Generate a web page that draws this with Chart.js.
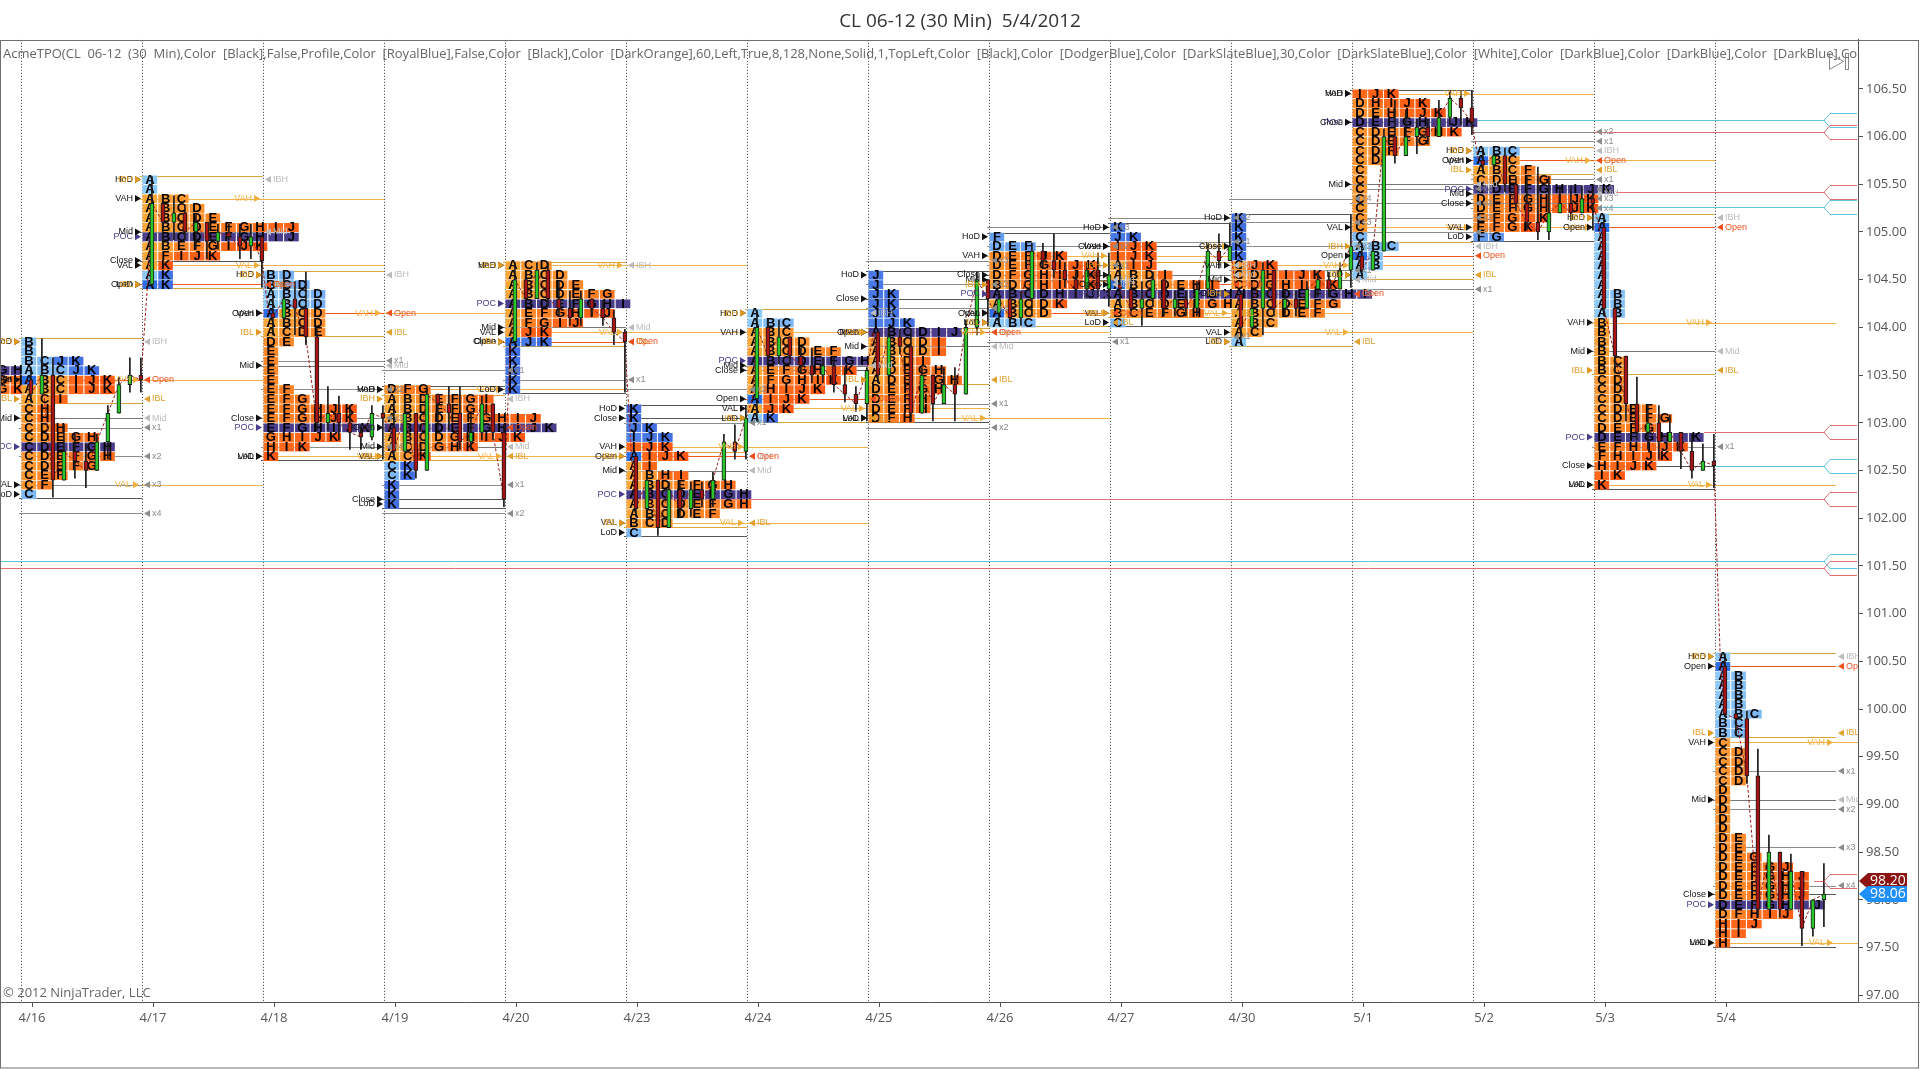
<!DOCTYPE html>
<html>
<head>
<meta charset="utf-8">
<title>CL 06-12 (30 Min) TPO</title>
<script src="https://cdn.jsdelivr.net/npm/chart.js@4.4.1/dist/chart.umd.min.js"></script>
<style>
  html, body { margin: 0; padding: 0; background: #fff; }
  #wrap { width: 1920px; height: 1069px; position: relative; }
</style>
</head>
<body>
<div id="wrap"><canvas id="tpo"></canvas></div>
<script>
// sessions, the first one (4/13) only shows its tail at the left edge
const dayLabels = ['4/13','4/16','4/17','4/18','4/19','4/20','4/23','4/24','4/25','4/26','4/27','4/30','5/1','5/2','5/3','5/4'];

// price of the top tpo row of each profile, rows go down 0.10 each
const profileTop = [103.55,103.85,105.55,104.55,103.35,104.65,103.15,104.15,104.55,104.95,105.05,105.15,106.45,105.85,105.15,100.55];

// letters per price row, top row first
const profileRows = [
  ['ABCDEFGH','ABCDEFGH','ABCDEFGK'],
  ['B','B','BCJK','ABCJK','ABCIJK','ABCIJK','ACI','CH','CH','CDH','CDEGH','CDEFGH','CDEFGH','CDEFG','CEF','CF','C'],
  ['A','A','ABC','ABCD','ABCDE','ABCDEFGHIJ','ABCDEFGHIJ','ABEFGIJK','AFIJK','AK','AK','AK'],
  ['BD','BCD','ABCD','ABCD','ABCD','ABCD','ACDE','DE','E','E','E','E','EF','EFG','EFGHJK','EFGHJK','EFGHIJK','GHIJK','HIK','K'],
  ['DFG','ABDEFGI','ABDEFGI','ABCDEFGHIJ','ABCDEFGHIJK','ABCDGHIJK','ACDGHK','ACK','CK','CK','K','K','K'],
  ['ACD','ABCD','ABCDE','ABCDEFG','ABDEFGHI','AEFGHIJ','AFGIJ','AJK','AJK','K','K','K','K','K'],
  ['K','K','JK','IJK','IJK','AIJK','AI','ABHI','ABDEFGH','ABCDEFGH','ABCDEFGH','ABCDEF','BCD','C'],
  ['A','ABC','ABC','ABCD','ABCDEF','ABCDEFGH','AEFGHIK','AFGHIK','AHIJK','AIJK','AJK','AK'],
  ['J','J','JK','JK','JK','IJK','ABCDIJ','ABCDI','ABCDI','ABDI','ADEGH','ADEFGH','DEFGH','DEFH','DEFH','DFH'],
  ['F','DEF','DEFJK','DEFGIJK','DFGHIJK','BDGHIJK','ABCDHIJK','ABCDK','ABCD','ABC'],
  ['K','JK','IJK','IJK','AIJ','ABDI','ABCDEHI','ABCDEFGHI','ABCDEFGH','BCEFGH','C'],
  ['K','K','K','K','K','CJK','CDHIJK','CDGHIJK','ABCDEFGHI','ABCDEFG','ABCDEF','ABC','AC','A'],
  ['IJK','DHIJK','DEHIJK','DEFGHIJK','CDEFGHK','CDEFG','CDF','CD','C','C','C','C','C','C','C','C','ABC','AB','AB','A'],
  ['ABC','ABC','ABCF','CDEFG','CDEFGHIJK','DEFGHIJK','DEFGHIJK','EFGIK','EFGK','FG'],
  ['A','A','A','A','A','A','A','A','AB','AB','AB','B','B','B','B','BC','BC','CD','CD','CD','CDEF','CDEFG','DEFG','DEFGHIK','EFHIJK','FHIJK','HIJK','IK','K'],
  ['A','A','AB','AB','AB','AB','ABC','BC','BC','C','CD','CD','CD','CD','D','D','D','D','D','DE','DE','DEG','DEFGJ','DEFGHJ','DEFGHJ','DEFGHJ','DEFGHIJ','DFHIJ','HIJ','HI','H']
];

const pocPrice  = [103.55,102.75,104.95,102.95,102.95,104.25,102.25,103.65,103.95,104.35,104.35,104.35,106.15,105.45,102.85,97.95];
const vahPrice  = [103.55,103.45,105.35,104.15,103.35,104.65,102.75,103.95,103.95,104.75,104.85,104.65,106.45,105.75,104.05,99.65];
const valPrice  = [103.35,102.35,104.65,102.65,102.65,103.95,101.95,103.15,103.05,104.15,104.15,103.95,105.05,105.05,102.35,97.55];
const openPrice = [null,103.45,104.45,104.15,102.95,103.85,102.65,103.25,103.95,104.15,104.45,104.35,104.75,105.75,105.05,100.45];

// close of each 30 min bar (A, B, C ...)
const barCloses = [
  [],
  [103.3,103.5,102.4,102.7,102.6,102.5,102.8,103.1,103.4,103.5,103.45],
  [105.3,105.1,105.2,105.0,105.1,104.9,105.0,104.95,104.85,104.95,104.7],
  [104.1,104.3,104.2,103.9,103.0,103.1,103.0,102.9,102.85,103.1,103.05],
  [102.7,103.1,102.5,103.3,103.2,103.1,102.8,102.9,103.2,102.9,102.2],
  [104.5,104.3,104.6,104.3,104.2,104.1,104.3,104.2,104.1,103.95,103.85],
  [102.1,102.4,101.9,102.3,102.1,102.3,102.2,102.4,102.8,102.7,103.05],
  [104.0,103.7,103.9,103.7,103.6,103.5,103.6,103.4,103.3,103.2,103.55],
  [103.5,103.9,103.8,103.1,103.5,103.2,103.4,103.3,104.0,104.5,104.3],
  [104.3,104.1,104.3,104.8,104.7,104.6,104.5,104.4,104.6,104.4,104.55],
  [104.4,104.2,104.3,104.5,104.2,104.3,104.2,104.4,104.8,104.7,104.85],
  [104.0,104.2,104.6,104.2,104.3,104.2,104.4,104.5,104.4,104.6,104.85],
  [104.6,104.8,106.0,105.8,106.0,106.1,106.0,106.2,106.4,106.3,106.15],
  [105.7,105.8,105.5,105.3,105.1,105.0,105.2,105.3,105.2,105.35,105.3],
  [104.2,103.7,103.2,102.9,103.0,102.8,102.9,102.7,102.5,102.6,102.55],
  [99.95,99.9,99.3,97.9,98.5,97.9,98.3,97.7,98.0,98.06]
];

// untested levels carried to the right edge
const nakedPrice = [101.48,101.55,102.2,102.9,102.55,106.17,106.05,105.42,105.26,98.2];
const nakedFrom  = [-2,-2,55,153,153,132,132,145,143,163];
const nakedKind  = ['vpoc','hg','vpoc','vpoc','hg','hg','vpoc','vpoc','hg','vpoc'];

const lastPrice = 98.06;
const markPrice = 98.20;
const yTicks = [97,97.5,98,98.5,99,99.5,100,100.5,101,101.5,102,102.5,103,103.5,104,104.5,105,105.5,106,106.5];

const indicatorText = 'AcmeTPO(CL  06-12  (30  Min),Color  [Black],False,Profile,Color  [RoyalBlue],False,Color  [Black],Color  [DarkOrange],60,Left,True,8,128,None,Solid,1,TopLeft,Color  [Black],Color  [DodgerBlue],Color  [DarkSlateBlue],30,Color  [DarkSlateBlue],Color  [White],Color  [DarkBlue],Color  [DarkBlue],Color  [DarkBlue],Color  [DarkBlue]';

// ---- layout / style constants
const ROW = 0.1, COLW = 1.43, BARS = 11;
const X_MIN = -21 / 11, X_MAX = 167;
const FONT = '"Open Sans", "Liberation Sans", sans-serif';
const ORANGE_A = [255, 168, 58], ORANGE_K = [255, 88, 18];
const BLUE_A = [140, 202, 250], BLUE_K = [66, 112, 226];
const POC_FILL = '#4A3E8C', OPEN_FILL = '#2D6FE4';
const kindColor = { vpoc: '#E07070', hg: '#5CC6DA' };

function sessionStart(i) { return (i - 1) * BARS; }
function near(a, b) { return b != null && Math.abs(a - b) < 0.001; }
function mix(c1, c2, t) {
  return 'rgb(' + c1.map((v, k) => Math.round(v + (c2[k] - v) * t)).join(',') + ')';
}
function cellColor(i, p, ch) {
  if (near(p, pocPrice[i])) return POC_FILL;
  if (ch === 'A' && near(p, openPrice[i])) return OPEN_FILL;
  const t = Math.min(1, (ch.charCodeAt(0) - 65) / 10);
  if (p <= vahPrice[i] + 0.001 && p >= valPrice[i] - 0.001) return mix(ORANGE_A, ORANGE_K, t);
  return mix(BLUE_A, BLUE_K, t);
}

// ---- build tpo cells
const cells = [];
profileRows.forEach((rows, i) => {
  const x0 = sessionStart(i);
  rows.forEach((row, k) => {
    const p = +(profileTop[i] - k * ROW).toFixed(2);
    [...row].forEach((ch, col) => {
      cells.push({ x: x0 + (col + 0.5) * COLW, y: [p - ROW / 2, p + ROW / 2], t: ch, c: cellColor(i, p, ch) });
    });
  });
});

// ---- candles: range from the letters, body from open / close
const wicks = [], bodies = [], closePath = [];
barCloses.forEach((closes, i) => {
  if (!closes.length) return;
  const rows = profileRows[i];
  closes.forEach((c, j) => {
    const letter = String.fromCharCode(65 + j);
    const o = j === 0 ? openPrice[i] : closes[j - 1];
    let hi = Math.max(o, c), lo = Math.min(o, c);
    rows.forEach((r, k) => {
      if (r.includes(letter)) {
        const p = profileTop[i] - k * ROW;
        hi = Math.max(hi, p + 0.03); lo = Math.min(lo, p - 0.03);
      }
    });
    const x = sessionStart(i) + j + 0.9;
    wicks.push({ x, y: [lo, hi] });
    const b0 = Math.min(o, c), b1 = Math.max(o, c);
    bodies.push({ x, y: b1 - b0 < 0.02 ? [b0 - 0.01, b1 + 0.01] : [b0, b1], up: c >= o });
    if (j === 0) closePath.push({ x: x - 0.4, y: o });
    closePath.push({ x, y: c });
  });
});

// ---- session levels derived from the profiles
const levels = dayLabels.map((d, i) => {
  const rows = profileRows[i];
  const prices = rows.map((r, k) => +(profileTop[i] - k * ROW).toFixed(2));
  let ibh = -Infinity, ibl = Infinity;
  rows.forEach((r, k) => {
    if (r.includes('A') || r.includes('B')) { ibh = Math.max(ibh, prices[k]); ibl = Math.min(ibl, prices[k]); }
  });
  const hod = prices[0], lod = prices[prices.length - 1];
  const ext = [];
  const half = (ibh - ibl) / 2;
  if (half > 0.05) {
    for (let n = 1; n <= 4; n++) {
      if (ibl - n * half >= lod - 0.2) ext.push({ p: ibl - n * half, n });
      if (ibh + n * half <= hod + 0.2) ext.push({ p: ibh + n * half, n });
    }
  }
  const closes = barCloses[i];
  return { hod, lod, mid: (hod + lod) / 2, ibh, ibl, ext, close: closes.length ? closes[closes.length - 1] : null };
});

function tagLeft(ctx, text, xr, yp, color) {
  ctx.fillStyle = color;
  ctx.beginPath(); ctx.moveTo(xr - 7, yp - 3.5); ctx.lineTo(xr - 1, yp); ctx.lineTo(xr - 7, yp + 3.5); ctx.closePath(); ctx.fill();
  ctx.textAlign = 'right'; ctx.fillText(text, xr - 9, yp);
}
function tagRight(ctx, text, xl, yp, color) {
  ctx.fillStyle = color;
  ctx.beginPath(); ctx.moveTo(xl + 8, yp - 3.5); ctx.lineTo(xl + 2, yp); ctx.lineTo(xl + 8, yp + 3.5); ctx.closePath(); ctx.fill();
  ctx.textAlign = 'left'; ctx.fillText(text, xl + 10, yp);
}
function hline(ctx, x1, x2, yp, color) {
  const py = Math.round(yp) + 0.5;
  ctx.strokeStyle = color; ctx.beginPath(); ctx.moveTo(x1, py); ctx.lineTo(x2, py); ctx.stroke();
}

const backdrop = {
  id: 'backdrop',
  beforeDatasetsDraw(chart) {
    const { ctx, chartArea: a, scales: { x, y } } = chart;
    ctx.save();
    ctx.beginPath(); ctx.rect(a.left, a.top, a.right - a.left, a.bottom - a.top); ctx.clip();
    ctx.lineWidth = 1;
    // dotted session separators
    ctx.strokeStyle = '#333'; ctx.setLineDash([1, 2]);
    for (let i = 1; i < dayLabels.length; i++) {
      const px = Math.round(x.getPixelForValue(sessionStart(i))) + 0.5;
      ctx.beginPath(); ctx.moveTo(px, a.top); ctx.lineTo(px, a.bottom); ctx.stroke();
    }
    ctx.setLineDash([]);
    // long untested levels
    nakedPrice.forEach((p, k) => {
      hline(ctx, x.getPixelForValue(nakedFrom[k]), a.right - 33, y.getPixelForValue(p), kindColor[nakedKind[k]]);
    });
    // per session lines
    for (let i = 1; i < dayLabels.length; i++) {
      const L = levels[i];
      const s0 = x.getPixelForValue(sessionStart(i)) - 2, s1 = x.getPixelForValue(sessionStart(i + 1));
      const s2 = x.getPixelForValue(sessionStart(i + 2));
      hline(ctx, s0, s2, y.getPixelForValue(vahPrice[i]), '#F2B24A');
      hline(ctx, s0, s2, y.getPixelForValue(valPrice[i]), '#F2B24A');
      hline(ctx, s0, s1, y.getPixelForValue(L.hod + 0.04), '#555');
      hline(ctx, s0, s1, y.getPixelForValue(L.lod - 0.04), '#555');
      hline(ctx, s0, s1, y.getPixelForValue(L.mid), '#777');
      if (L.close != null) hline(ctx, s0, s1, y.getPixelForValue(L.close), '#555');
      hline(ctx, s0, s1, y.getPixelForValue(L.ibh + 0.04), '#D9A43A');
      hline(ctx, s0, s1, y.getPixelForValue(L.ibl - 0.04), '#D9A43A');
      if (openPrice[i] != null) hline(ctx, s0, s1, y.getPixelForValue(openPrice[i]), '#F05A22');
      L.ext.forEach(e => hline(ctx, s0, s1, y.getPixelForValue(e.p), '#8C8C8C'));
    }
    ctx.restore();
  },
  afterDatasetDraw(chart, args) {
    if (args.index !== 0) return;
    const { ctx, chartArea: a } = chart;
    ctx.save();
    ctx.beginPath(); ctx.rect(a.left, a.top, a.right - a.left, a.bottom - a.top); ctx.clip();
    ctx.font = 'bold 13px "Liberation Sans", Arial, sans-serif';
    ctx.textAlign = 'center'; ctx.textBaseline = 'middle';
    ctx.fillStyle = '#000';
    args.meta.data.forEach((el, j) => {
      ctx.fillText(cells[j].t, el.x, (el.y + el.base) / 2 + 0.5);
    });
    ctx.restore();
  },
  afterDatasetsDraw(chart) {
    const { ctx, chartArea: a, scales: { x, y } } = chart;
    ctx.save();
    ctx.beginPath(); ctx.rect(a.left, a.top, a.right - a.left, a.bottom - a.top); ctx.clip();
    ctx.font = '9px "Liberation Sans", Arial, sans-serif';
    ctx.textBaseline = 'middle';
    for (let i = 1; i < dayLabels.length; i++) {
      const L = levels[i];
      const s0 = x.getPixelForValue(sessionStart(i)), s1 = x.getPixelForValue(sessionStart(i + 1));
      const py = v => y.getPixelForValue(v);
      tagLeft(ctx, 'HoD', s0, py(L.hod), '#111');
      tagLeft(ctx, 'LoD', s0, py(L.lod), '#111');
      tagLeft(ctx, 'VAH', s0, py(vahPrice[i]), '#111');
      tagLeft(ctx, 'VAL', s0, py(valPrice[i]), '#111');
      tagLeft(ctx, 'POC', s0, py(pocPrice[i]), '#483D8B');
      tagLeft(ctx, 'Mid', s0, py(L.mid), '#111');
      if (L.close != null) tagLeft(ctx, 'Close', s0, py(L.close), '#111');
      if (openPrice[i] != null) tagLeft(ctx, 'Open', s0, py(openPrice[i]), '#111');
      tagLeft(ctx, 'IBH', s0, py(L.ibh), '#E09A20');
      tagLeft(ctx, 'IBL', s0, py(L.ibl), '#E09A20');
      tagLeft(ctx, 'VAH', s1 - 2, py(vahPrice[i]), '#F2AE3C');
      tagLeft(ctx, 'VAL', s1 - 2, py(valPrice[i]), '#F2AE3C');
      tagRight(ctx, 'IBH', s1, py(L.ibh), '#BBBBBB');
      tagRight(ctx, 'IBL', s1, py(L.ibl), '#E0A030');
      tagRight(ctx, 'Mid', s1, py(L.mid), '#BBBBBB');
      if (openPrice[i] != null) tagRight(ctx, 'Open', s1, py(openPrice[i]), '#F0501E');
      L.ext.forEach(e => tagRight(ctx, 'x' + e.n, s1, py(e.p), '#8C8C8C'));
    }
    ctx.restore();
  },
  afterDraw(chart) {
    const { ctx, chartArea: a, scales: { y } } = chart;
    const W = chart.width, H = chart.height;
    ctx.save();
    // flags of the untested levels at the right edge
    ctx.lineWidth = 1;
    nakedPrice.forEach((p, k) => {
      const py = Math.round(y.getPixelForValue(p)) + 0.5, r = a.right - 1;
      ctx.strokeStyle = kindColor[nakedKind[k]];
      ctx.beginPath();
      ctx.moveTo(r, py - 7); ctx.lineTo(r - 27, py - 7); ctx.lineTo(r - 33, py);
      ctx.lineTo(r - 27, py + 7); ctx.lineTo(r, py + 7); ctx.stroke();
    });
    // indicator text and copyright
    ctx.save();
    ctx.beginPath(); ctx.rect(a.left, a.top, a.right - a.left, a.bottom - a.top); ctx.clip();
    ctx.fillStyle = '#666'; ctx.font = '13px ' + FONT; ctx.textBaseline = 'middle'; ctx.textAlign = 'left';
    ctx.fillText(indicatorText, 3, a.top + 14);
    ctx.fillText('\u00A9 2012 NinjaTrader, LLC', 3, a.bottom - 9);
    ctx.restore();
    // play icon
    ctx.strokeStyle = '#888';
    ctx.beginPath(); ctx.moveTo(1829.5, 53.5); ctx.lineTo(1843.5, 61.5); ctx.lineTo(1829.5, 69.5); ctx.closePath(); ctx.stroke();
    ctx.strokeRect(1845.5, 53.5, 3, 16);
    // price markers on the axis
    [[markPrice, '#8E1414'], [lastPrice, '#1E8FFF']].forEach(([v, col]) => {
      const py = Math.round(y.getPixelForValue(v)), x0 = a.right + 1;
      ctx.fillStyle = col;
      ctx.beginPath(); ctx.moveTo(x0, py); ctx.lineTo(x0 + 9, py - 8); ctx.lineTo(x0 + 48, py - 8);
      ctx.lineTo(x0 + 48, py + 8); ctx.lineTo(x0 + 9, py + 8); ctx.closePath(); ctx.fill();
      ctx.fillStyle = '#fff'; ctx.font = '14px ' + FONT; ctx.textAlign = 'left'; ctx.textBaseline = 'middle';
      ctx.fillText(v.toFixed(2), x0 + 11, py + 0.5);
    });
    // panel frame
    ctx.strokeStyle = '#707070';
    ctx.strokeRect(0.5, Math.round(a.top) + 0.5, W - 2, H - Math.round(a.top) - 1.5);
    ctx.beginPath(); ctx.moveTo(a.right, Math.round(a.bottom) + 0.5); ctx.lineTo(W, Math.round(a.bottom) + 0.5); ctx.stroke();
    ctx.restore();
  }
};

// tick under each session, only the ones inside the axis range
const tickValues = dayLabels.map((d, i) => sessionStart(i) + 1).filter(v => v > X_MIN && v < X_MAX);

new Chart(document.getElementById('tpo'), {
  type: 'bar',
  data: {
    datasets: [
      {
        label: 'TPO', data: cells, order: 5, grouped: false,
        barThickness: 16, borderWidth: 1, borderColor: 'rgba(255,255,255,0.28)',
        backgroundColor: c => (c.raw ? c.raw.c : '#fff')
      },
      {
        type: 'line', label: 'Close path', data: closePath, order: 3,
        borderColor: '#9B1C1C', borderWidth: 1, borderDash: [3, 2], pointRadius: 0, tension: 0
      },
      {
        label: 'Wicks', data: wicks, order: 2, grouped: false,
        barThickness: 1, backgroundColor: '#1A1A1A', borderWidth: 0
      },
      {
        label: 'Bodies', data: bodies, order: 1, grouped: false,
        barThickness: 4, borderWidth: 1, borderColor: '#1A1A1A', borderSkipped: false,
        backgroundColor: c => (c.raw && c.raw.up ? '#2CC52C' : '#A81414')
      }
    ]
  },
  options: {
    responsive: true,
    maintainAspectRatio: false,
    devicePixelRatio: 1,
    animation: false,
    events: [],
    layout: { padding: 0 },
    plugins: {
      legend: { display: false },
      tooltip: { enabled: false },
      title: {
        display: true,
        text: 'CL 06-12 (30 Min)  5/4/2012',
        color: '#333',
        font: { family: FONT, size: 19, weight: 'normal' },
        padding: { top: 10, bottom: 7 }
      }
    },
    scales: {
      x: {
        type: 'linear',
        min: X_MIN,
        max: X_MAX,
        offset: false,
        afterBuildTicks: s => { s.ticks = tickValues.map(v => ({ value: v })); },
        afterFit: s => { s.height = 67; s.paddingLeft = 0; s.paddingRight = 0; },
        ticks: {
          autoSkip: false, maxRotation: 0, padding: 3, color: '#555',
          font: { family: FONT, size: 13 },
          callback: v => dayLabels[Math.round((v - 1) / BARS) + 1]
        },
        grid: { drawOnChartArea: false, drawTicks: true, tickLength: 5, color: '#555', offset: false },
        border: { display: true, color: '#555' }
      },
      y: {
        type: 'linear',
        position: 'right',
        min: 96.93,
        max: 107.014,
        afterBuildTicks: s => { s.ticks = yTicks.map(v => ({ value: v })); },
        afterFit: s => { s.width = 62; },
        ticks: {
          padding: 3, color: '#555',
          font: { family: FONT, size: 13 },
          callback: v => Number(v).toFixed(2)
        },
        grid: { drawOnChartArea: false, drawTicks: true, tickLength: 5, color: '#555' },
        border: { display: true, color: '#555' }
      }
    }
  },
  plugins: [backdrop]
});
</script>
</body>
</html>
